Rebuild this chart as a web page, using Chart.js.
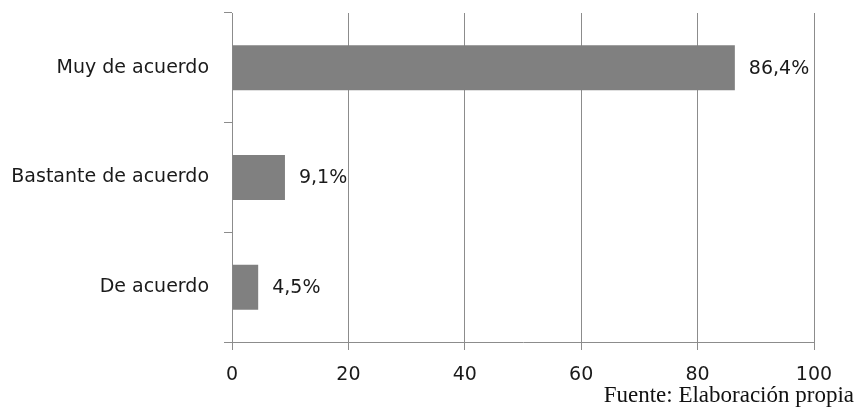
<!DOCTYPE html>
<html>
<head>
<meta charset="utf-8">
<script src="https://cdn.jsdelivr.net/npm/chart.js@4/dist/chart.umd.min.js"></script>
<style>
  html, body { margin: 0; padding: 0; background: #ffffff; }
  #wrap { width: 858px; height: 413px; position: relative; }
</style>
</head>
<body>
<div id="wrap"><canvas id="c" width="858" height="413"></canvas></div>
<script>
// Respuestas (porcentaje de encuestados)
const categories = ['Muy de acuerdo', 'Bastante de acuerdo', 'De acuerdo'];
const values = [86.4, 9.1, 4.5];
const valueLabels = ['86,4%', '9,1%', '4,5%'];
const xTicks = [0, 20, 40, 60, 80, 100];
const sourceNote = 'Fuente: Elaboración propia';

const gray = '#8c8c8c';
const textColor = '#1a1a1a';
const labelFont = '19px "DejaVu Sans", sans-serif';

// Writes the percentage next to the end of each bar, plus the source note
const barLabels = {
  id: 'barLabels',
  afterDatasetsDraw(chart) {
    const ctx = chart.ctx;
    const meta = chart.getDatasetMeta(0);
    ctx.save();
    ctx.font = labelFont;
    ctx.fillStyle = textColor;
    ctx.textAlign = 'left';
    ctx.textBaseline = 'middle';
    meta.data.forEach((bar, i) => {
      ctx.fillText(valueLabels[i], bar.x + 14, bar.y + 1);
    });
    ctx.font = '23px "Liberation Serif", "Times New Roman", serif';
    ctx.textAlign = 'right';
    ctx.textBaseline = 'alphabetic';
    ctx.fillStyle = '#111111';
    ctx.fillText(sourceNote, chart.width - 4, chart.height - 11);
    ctx.restore();
  }
};

new Chart(document.getElementById('c'), {
  type: 'bar',
  data: {
    labels: categories,
    datasets: [{
      data: values,
      backgroundColor: '#808080',
      borderWidth: 0,
      barPercentage: 0.41,
      categoryPercentage: 1.0
    }]
  },
  options: {
    indexAxis: 'y',
    responsive: false,
    animation: false,
    devicePixelRatio: 1,
    layout: { padding: { top: 13, right: 44, bottom: 0, left: 0 } },
    plugins: {
      legend: { display: false },
      tooltip: { enabled: false }
    },
    scales: {
      x: {
        min: 0,
        max: 100,
        afterBuildTicks(scale) { scale.ticks = xTicks.map(v => ({ value: v })); },
        afterFit(scale) {
          scale.height = 71;
          scale.paddingLeft = 0;
          scale.paddingRight = 0;
        },
        grid: { color: gray, lineWidth: 1, drawOnChartArea: true, drawTicks: true, tickLength: 8 },
        border: { color: gray, width: 1 },
        ticks: {
          color: textColor,
          font: { family: '"DejaVu Sans", sans-serif', size: 19 },
          padding: 14,
          maxRotation: 0
        }
      },
      y: {
        afterFit(scale) {
          scale.width = 232;
          scale.paddingTop = 0;
          scale.paddingBottom = 0;
        },
        grid: { color: gray, lineWidth: 1, offset: true, drawOnChartArea: false, drawTicks: true, tickLength: 8 },
        border: { color: gray, width: 1 },
        ticks: {
          color: textColor,
          font: { family: '"DejaVu Sans", sans-serif', size: 19 },
          padding: 15
        }
      }
    }
  },
  plugins: [barLabels]
});
</script>
</body>
</html>
